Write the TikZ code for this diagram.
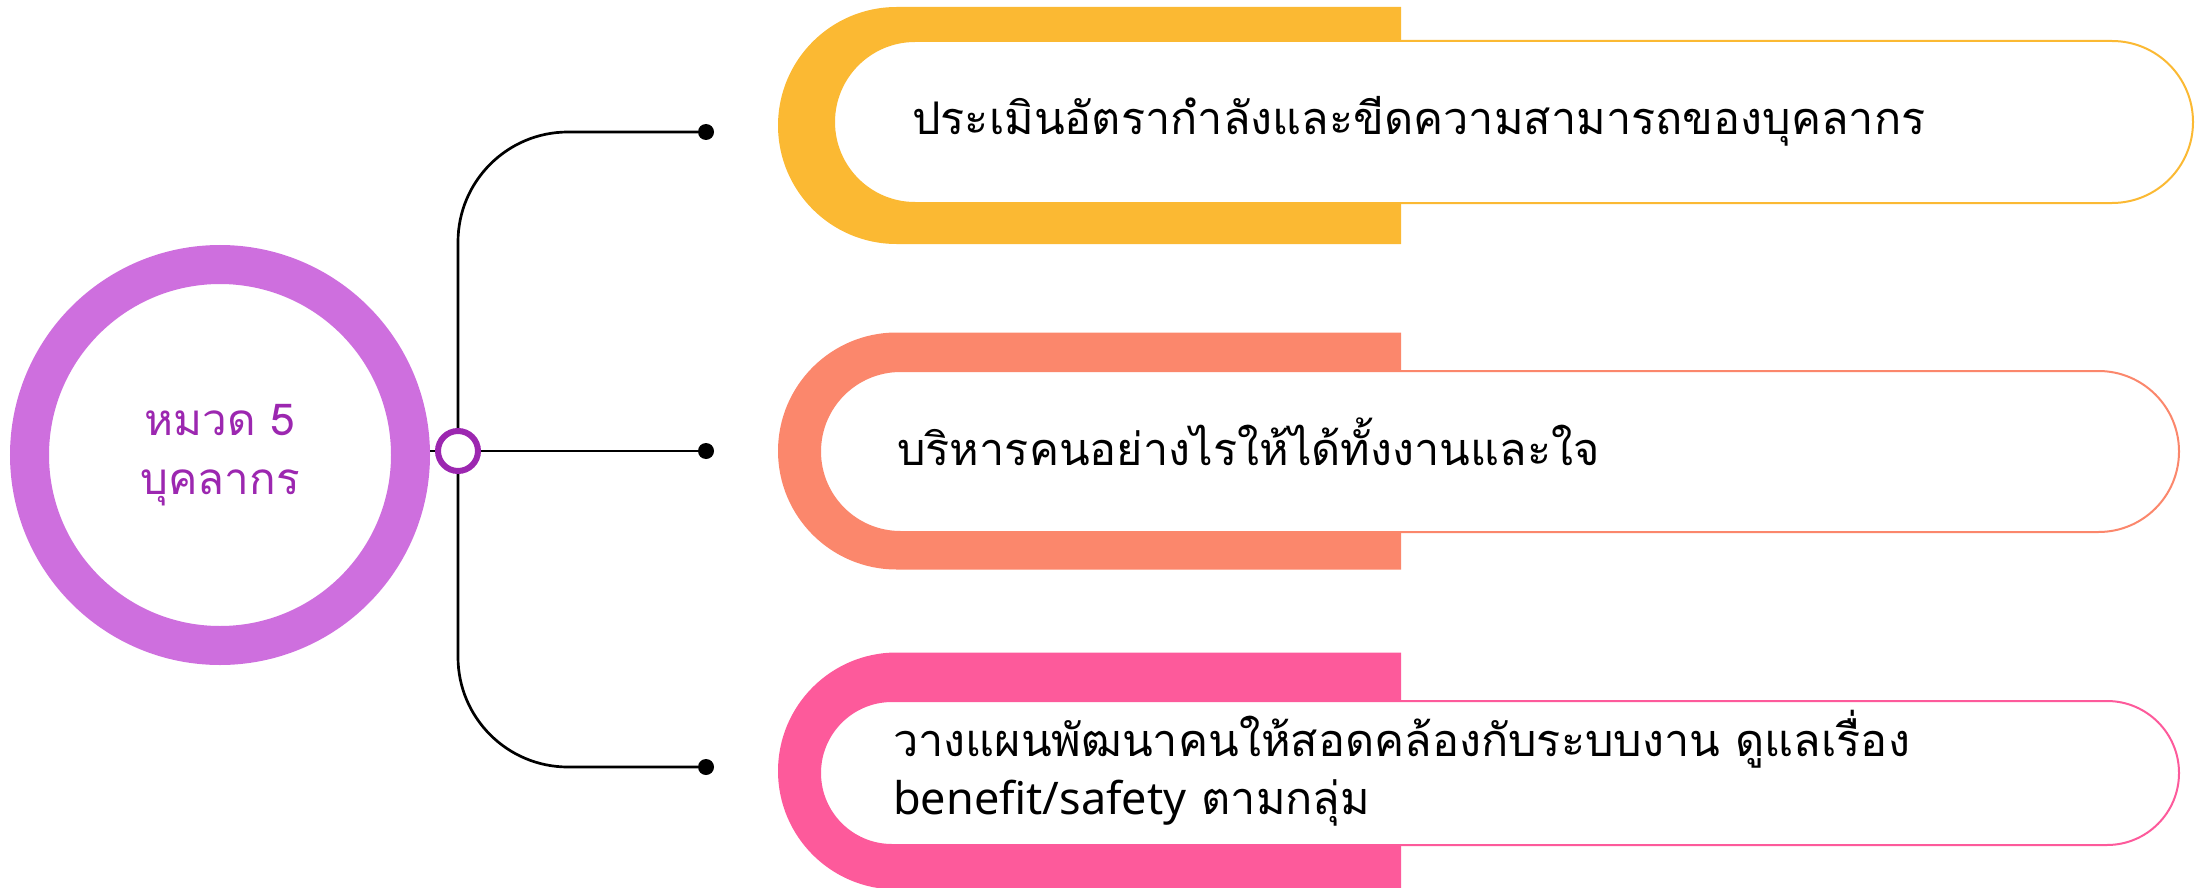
\documentclass[tikz,border=0pt]{standalone}
\usepackage{fontspec}
\setmainfont{Noto Sans}
\newfontfamily\thaifont[Script=Thai]{Loma}
\usetikzlibrary{shapes.misc}
\definecolor{cYel}{HTML}{FBB933}
\definecolor{cOra}{HTML}{FB876C}
\definecolor{cPnk}{HTML}{FD5A9B}
\definecolor{cRing}{HTML}{CE6FDE}
\definecolor{cHub}{HTML}{9C27B0}
\begin{document}
\begin{tikzpicture}[x=1pt,y=-1pt,
  backing/.style={rounded rectangle, rounded rectangle right arc=none, minimum width=623pt, minimum height=237pt, inner sep=0pt, draw=none},
  pill/.style={rounded rectangle, minimum width=1359pt, fill=white, line width=2pt, inner sep=0pt},
  itemtext/.style={font=\thaifont\fontsize{45}{58}\selectfont, anchor=base west, inner sep=0pt, align=left},
  wire/.style={line width=2.7pt, black},
  enddot/.style={circle, fill=black, minimum size=16pt, inner sep=0pt}]
\useasboundingbox (0,0) rectangle (2203,888);
% backing shapes
\node[backing, fill=cYel] (b1) at (1089.5,125.5) {};
\node[backing, fill=cOra] (b2) at (1089.5,451) {};
\node[backing, fill=cPnk] (b3) at (1089.5,771) {};
% white pills
\node[pill, draw=cYel, minimum height=162pt] (p1) at (1513.5,122) {};
\node[pill, draw=cOra, minimum height=161pt] (p2) at (1499.5,451.5) {};
\node[pill, draw=cPnk, minimum height=144pt] (p3) at (1499.5,773) {};
% texts
\node[itemtext] (t1) at (912,135) {ประเมินอัตรากำลังและขีดความสามารถของบุคลากร};
\node[itemtext] (t2) at (897,465) {บริหารคนอย่างไรให้ได้ทั้งงานและใจ};
\node[itemtext] (t3) at (893,814) {วางแผนพัฒนาคนให้สอดคล้องกับระบบงาน ดูแลเรื่อง\\{\rmfamily benefit/safety} ตามกลุ่ม};
% central ring
\node[circle, minimum size=381pt, line width=39pt, draw=cRing, fill=white, text=cHub,
  font=\thaifont\fontsize{44}{59}\selectfont, align=center, inner sep=0pt] (ring) at (220,455) {หมวด 5\\บุคลากร};
% dots
\node[enddot] (d1) at (706,132) {};
\node[enddot] (d2) at (706,451) {};
\node[enddot] (d3) at (706,767) {};
% hub
\coordinate (hubc) at (458,451);
\draw[wire, rounded corners=110pt] (hubc) |- (d1);
\draw[wire, rounded corners=110pt] (hubc) |- (d3);
\draw[wire] (hubc) -- (d2);
\node[circle, minimum size=40pt, line width=6pt, draw=cHub, fill=white, inner sep=0pt] (hub) at (hubc) {};
\draw[wire] (hub.west -| ring.east) -- (hub.west);
\end{tikzpicture}
\end{document}
